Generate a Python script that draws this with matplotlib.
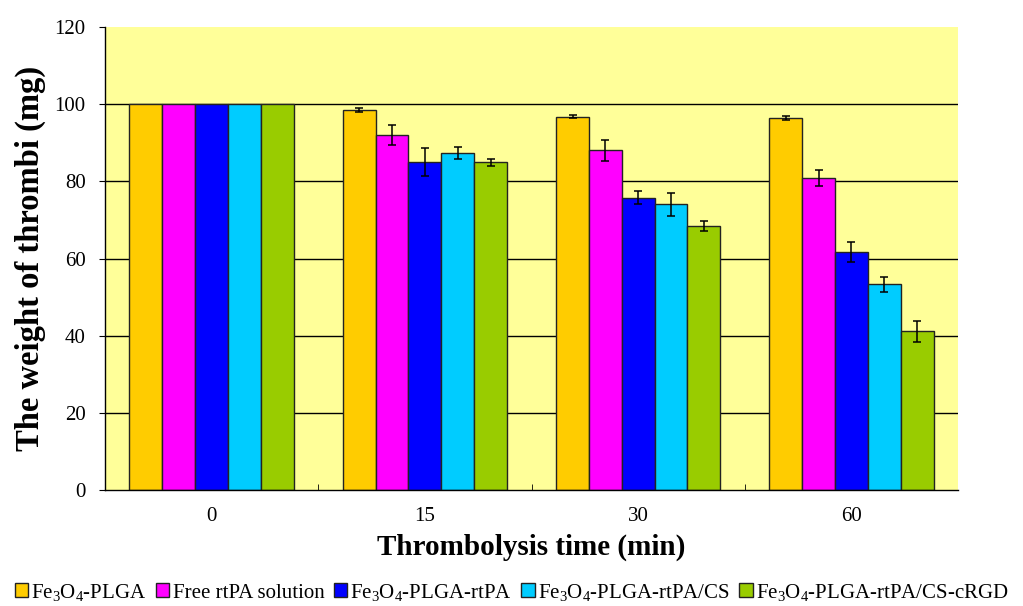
import matplotlib
matplotlib.use("Agg")
import matplotlib.pyplot as plt
import numpy as np

plt.rcParams['font.family'] = ['Liberation Serif', 'DejaVu Serif']
plt.rcParams['mathtext.fontset'] = 'custom'
plt.rcParams['mathtext.rm'] = 'Liberation Serif'
plt.rcParams['mathtext.it'] = 'Liberation Serif'

times = ["0", "15", "30", "60"]
groups = [r"Fe$_3$O$_4$-PLGA", "Free rtPA solution", r"Fe$_3$O$_4$-PLGA-rtPA",
          r"Fe$_3$O$_4$-PLGA-rtPA/CS", r"Fe$_3$O$_4$-PLGA-rtPA/CS-cRGD"]
colors = ["#FFCC00", "#FF00FF", "#0000FF", "#00CCFF", "#99CC00"]

fe_plga = [100, 98.5, 96.8, 96.5]
free_rtpa = [100, 92.0, 88.0, 80.8]
plga_rtpa = [100, 85.0, 75.8, 61.6]
plga_cs = [100, 87.3, 74.1, 53.3]
plga_crgd = [100, 85.0, 68.4, 41.1]

fe_plga_err = [0, 0.6, 0.5, 0.5]
free_rtpa_err = [0, 2.5, 2.6, 2.1]
plga_rtpa_err = [0, 3.6, 1.6, 2.6]
plga_cs_err = [0, 1.5, 3.0, 2.0]
plga_crgd_err = [0, 0.9, 1.2, 2.7]

values = [fe_plga, free_rtpa, plga_rtpa, plga_cs, plga_crgd]
errors = [fe_plga_err, free_rtpa_err, plga_rtpa_err, plga_cs_err, plga_crgd_err]

fig = plt.figure(figsize=(10.23, 6.06), dpi=100)
ax = fig.add_axes([0.1026, 0.1914, 0.834, 0.764])
ax.set_facecolor("#FFFF99")

x = np.arange(len(times))
w = 0.154
for i in range(5):
    pos = x + (i - 2) * w
    errs = [e if e > 0 else np.nan for e in errors[i]]
    ax.bar(pos, values[i], w, color=colors[i], edgecolor="#222222", linewidth=1.0,
           label=groups[i], zorder=2)
    ax.errorbar(pos, values[i], yerr=errs, fmt="none", ecolor="black",
                elinewidth=1.1, capsize=3, capthick=1.1, zorder=3)

yt = [0, 20, 40, 60, 80, 100, 120]
ax.hlines(yt[1:-1], -0.5, 3.5, colors="black", linewidth=1.0, zorder=1)

ax.set_xlim(-0.5, 3.5)
ax.set_ylim(0, 120)
ax.set_yticks(yt)
ax.set_xticks(x)
ax.set_xticklabels(times)
ax.set_xticks([0.5, 1.5, 2.5], minor=True)
ax.tick_params(axis="x", which="major", length=0, labelsize=15, pad=12)
ax.tick_params(axis="x", which="minor", direction="in", length=4)
ax.tick_params(axis="y", labelsize=15, length=4, direction="out", pad=10)
for s in ["top", "right"]:
    ax.spines[s].set_visible(False)
ax.spines["left"].set_linewidth(1.0)
ax.spines["bottom"].set_linewidth(1.0)

ax.set_ylabel("The weight of thrombi (mg)", fontsize=23.5, fontweight="bold", labelpad=6)
ax.set_xlabel("Thrombolysis time (min)", fontsize=21, fontweight="bold", labelpad=6)

fig.legend(loc="lower center", bbox_to_anchor=(0.5, -0.015), ncol=5, frameon=False,
           fontsize=15, handlelength=0.65, handleheight=0.65, handletextpad=0.15,
           columnspacing=0.45, borderaxespad=0.2)

fig.savefig("out.png", dpi=100)
